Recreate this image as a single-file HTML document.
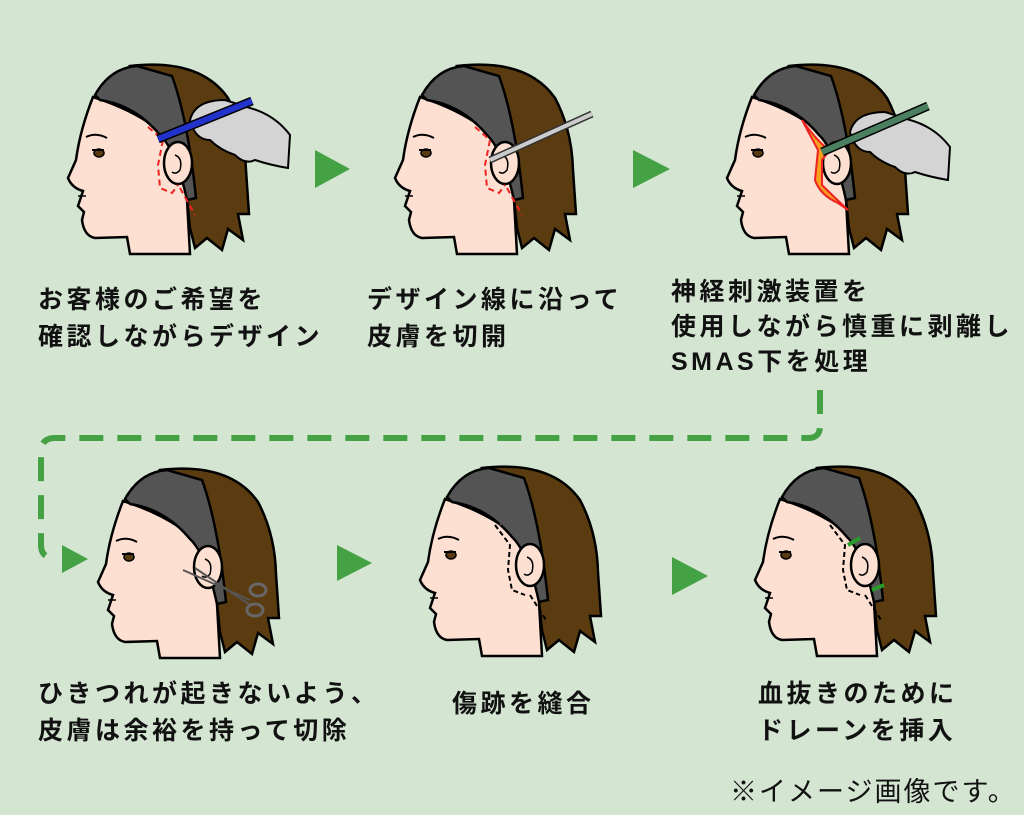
<!DOCTYPE html>
<html><head><meta charset="utf-8"><style>
html,body{margin:0;padding:0}
body{width:1024px;height:815px;background:#d4e5d2;position:relative;overflow:hidden;font-family:"Liberation Sans","Noto Sans CJK JP",sans-serif}
.t{position:absolute;font-size:25px;font-weight:bold;letter-spacing:3.5px;line-height:37px;color:#111;white-space:nowrap}
svg{position:absolute;left:0;top:0}
</style></head><body>
<svg width="1024" height="815" viewBox="0 0 1024 815">
<defs>
<g id="head">
  <path d="M130,66 Q200,58 228,98 Q245,130 246,170 L249,214 L238,214 L243,240 L228,229 L222,250 L207,238 L195,248 L190,228 L186,190 Z" fill="#5b3c10" stroke="#000" stroke-width="2.5"/>
  <path d="M93,97 Q80,130 76,160 L68,178 Q72,188 83,191 L78,206 L84,212 L82,220 Q84,236 95,238 L127,237 L130,254 L190,254 L187,200 L180,150 Q150,115 93,97 Z" fill="#fde0d2" stroke="#000" stroke-width="2.5"/>
  <path d="M95,95 Q110,68 137,66 L172,76 Q188,120 196,198 L187,200 Q176,150 160,135 Q135,105 100,100 Z" fill="#545454" stroke="#000" stroke-width="2.5"/>
  <ellipse cx="178" cy="163" rx="14" ry="21" fill="#fde0d2" stroke="#000" stroke-width="2.5"/>
  <path d="M175,155 Q183,158 180,170 Q176,175 172,172" fill="none" stroke="#000" stroke-width="1.5"/>
  <ellipse cx="99" cy="153" rx="5" ry="4" fill="#5a3a10" stroke="#000" stroke-width="1.5"/>
  <path d="M92,150 L104,150" stroke="#000" stroke-width="2"/>
  <path d="M86,137 Q96,132 107,138" fill="none" stroke="#000" stroke-width="2"/>
  <path d="M78,196 L86,196" stroke="#000" stroke-width="1.5"/>
</g>
<path id="glove" d="M0,20 Q5,0 35,0 L60,8 Q85,15 100,35 L98,68 Q80,65 65,60 Q55,65 45,55 Q30,50 20,40 Q5,40 0,20 Z" fill="#d4d4d4" stroke="#000" stroke-width="2"/>
</defs>
<use href="#head" x="0" y="0"/>
<use href="#head" x="327" y="0"/>
<use href="#head" x="659" y="0"/>
<use href="#head" x="30" y="404"/>
<use href="#head" x="352" y="402"/>
<use href="#head" x="687" y="402"/>
<path d="M148,127 L163,140 L158,165 L160,188 L172,193 L178,185 M180,188 L195,215" fill="none" stroke="#e22" stroke-width="2" stroke-dasharray="6 4"/>
<use href="#glove" x="190" y="100"/>
<path d="M158,139 L252,101" stroke="#000" stroke-width="9"/><path d="M158,139 L252,101" stroke="#2233cc" stroke-width="6"/>
<path d="M475,127 L490,140 L485,165 L487,188 L499,193 L505,185 M507,188 L522,215" fill="none" stroke="#e22" stroke-width="2" stroke-dasharray="6 4"/>
<path d="M490,160 L592,114" stroke="#333" stroke-width="7"/><path d="M490,160 L592,114" stroke="#ccc" stroke-width="4"/>
<path d="M802,120 Q820,145 830,150 L822,160 L822,185 Q832,195 848,210 L838,203 Q820,195 815,180 L818,150 Z" fill="#f6a020" stroke="#e22" stroke-width="2"/>
<use href="#glove" x="850" y="112"/>
<path d="M822,152 L928,106" stroke="#000" stroke-width="9"/><path d="M822,152 L928,106" stroke="#4a8060" stroke-width="6"/>
<path d="M183,570 L250,600" stroke="#555" stroke-width="2"/><path d="M195,568 L250,605" stroke="#555" stroke-width="2"/>
<ellipse cx="258" cy="590" rx="8" ry="6" fill="none" stroke="#666" stroke-width="3"/><ellipse cx="255" cy="610" rx="8" ry="6" fill="none" stroke="#666" stroke-width="3"/>
<path d="M495,525 L510,545 L508,570 L512,590 L525,595 M530,595 L546,620" fill="none" stroke="#000" stroke-width="2" stroke-dasharray="5 3"/>
<path d="M500,525 L525,495" stroke="#555" stroke-width="2"/>
<path d="M830,525 L845,545 L843,570 L847,590 L860,595 M865,595 L881,620" fill="none" stroke="#000" stroke-width="2" stroke-dasharray="5 3"/>
<path d="M848,545 L860,538 M872,590 L884,585" stroke="#2a9a2a" stroke-width="4"/>
<g fill="#44a244">
<polygon points="315,150 350,169 315,188"/>
<polygon points="633,150 670,169 633,188"/>
<polygon points="62,545 88,559 62,573"/>
<polygon points="337,545 372,563 337,581"/>
<polygon points="672,557 708,576 672,595"/>
</g>
<path d="M820,390 L820,426 Q820,438 808,438 L55,438 Q41,438 41,452 L41,545 Q41,558 55,558" fill="none" stroke="#44a244" stroke-width="6" stroke-dasharray="24 14"/>
</svg>
<div class="t" style="left:38px;top:282px">お客様のご希望を<br>確認しながらデザイン</div>
<div class="t" style="left:367px;top:282px">デザイン線に沿って<br>皮膚を切開</div>
<div class="t" style="left:671px;top:275px;line-height:35px">神経刺激装置を<br>使用しながら慎重に剥離し<br>SMAS下を処理</div>
<div class="t" style="left:38px;top:676px">ひきつれが起きないよう、<br>皮膚は余裕を持って切除</div>
<div class="t" style="left:452px;top:686px">傷跡を縫合</div>
<div class="t" style="left:758px;top:676px">血抜きのために<br>ドレーンを挿入</div>
<div class="t" style="left:730px;top:774px;font-size:27px;font-weight:normal;letter-spacing:2px">※イメージ画像です。</div>
</body></html>
